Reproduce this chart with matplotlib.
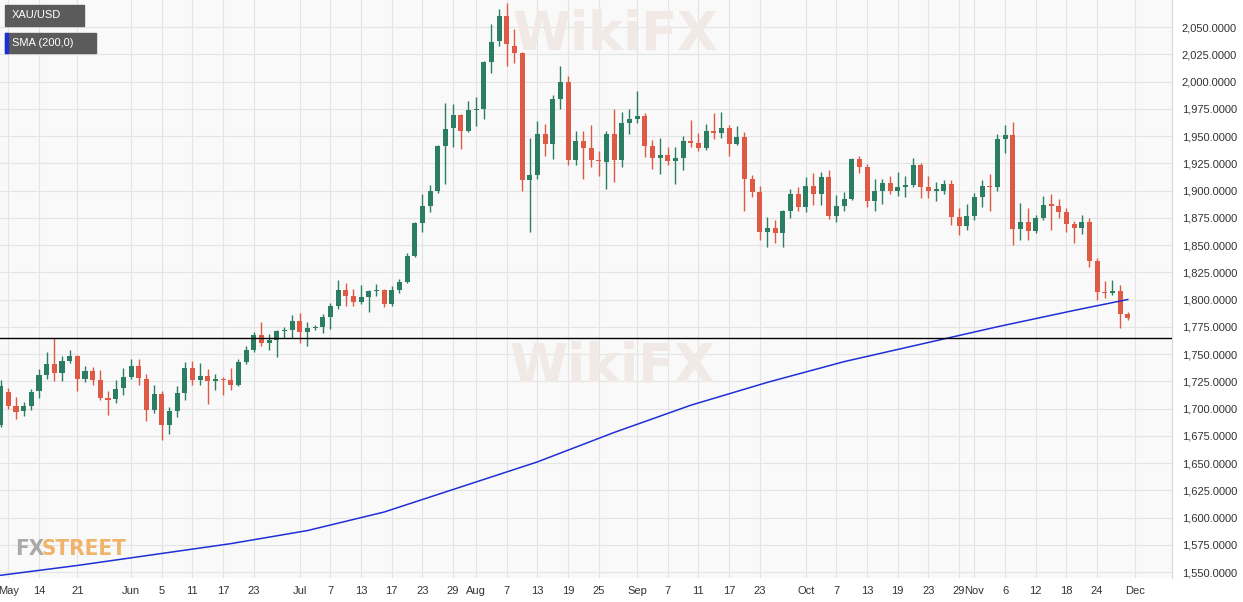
import numpy as np
import matplotlib
matplotlib.use('Agg')
import matplotlib.pyplot as plt

# XAU/USD daily candles, first bar 2020-05-07, one bar per weekday
start = '2020-05-07'
opens = [1685, 1715, 1702, 1698, 1702, 1716, 1731, 1741, 1733, 1744,
         1748, 1727, 1734, 1726, 1710, 1709, 1719, 1729, 1739, 1727,
         1699, 1713, 1685, 1698, 1714, 1737, 1726, 1730, 1725, 1727,
         1726, 1722, 1743, 1754, 1767, 1760, 1763, 1771, 1772, 1780,
         1770, 1774, 1775, 1784, 1794, 1809, 1803, 1798, 1802, 1808,
         1809, 1796, 1809, 1816, 1840, 1870, 1886, 1900, 1941, 1957,
         1969, 1955, 1974, 1975, 2018, 2037, 2060, 2033, 2026, 1910,
         1914, 1952, 1943, 1984, 2000, 1928, 1945, 1939, 1928, 1926,
         1952, 1928, 1962, 1966, 1968, 1941, 1930, 1933, 1927, 1930,
         1945, 1944, 1939, 1955, 1953, 1957, 1943, 1949, 1911, 1899,
         1862, 1866, 1861, 1881, 1897, 1885, 1904, 1897, 1912, 1877,
         1886, 1892, 1929, 1922, 1890, 1900, 1907, 1900, 1903, 1905,
         1923, 1903, 1900, 1900, 1906, 1876, 1867, 1877, 1894, 1904,
         1903, 1947, 1951, 1865, 1871, 1863, 1875, 1888, 1886, 1880,
         1869, 1866, 1871, 1835, 1807, 1806, 1808, 1787]
highs = [1726, 1719, 1711, 1706, 1718, 1736, 1752, 1765, 1748, 1754,
         1749, 1739, 1738, 1735, 1716, 1726, 1737, 1745, 1745, 1732,
         1722, 1716, 1701, 1721, 1743, 1744, 1742, 1736, 1732, 1729,
         1737, 1745, 1757, 1770, 1779, 1768, 1772, 1775, 1786, 1788,
         1779, 1777, 1787, 1797, 1818, 1815, 1810, 1813, 1809, 1814,
         1810, 1812, 1819, 1843, 1871, 1897, 1905, 1942, 1980, 1979,
         1970, 1982, 1986, 2019, 2053, 2067, 2072, 2048, 2027, 1948,
         1964, 1961, 1988, 2014, 2005, 1955, 1955, 1960, 1936, 1955,
         1975, 1972, 1975, 1991, 1971, 1946, 1948, 1940, 1940, 1950,
         1965, 1953, 1961, 1971, 1972, 1960, 1959, 1954, 1914, 1904,
         1876, 1873, 1882, 1901, 1903, 1912, 1916, 1917, 1919, 1896,
         1899, 1930, 1932, 1924, 1911, 1911, 1913, 1917, 1913, 1930,
         1925, 1913, 1908, 1910, 1910, 1884, 1888, 1898, 1910, 1915,
         1952, 1960, 1963, 1889, 1884, 1878, 1895, 1897, 1892, 1884,
         1872, 1878, 1875, 1838, 1817, 1818, 1813, 1789]
lows = [1683, 1700, 1690, 1693, 1699, 1710, 1727, 1725, 1725, 1742,
        1716, 1724, 1722, 1708, 1694, 1705, 1712, 1727, 1722, 1689,
        1696, 1671, 1677, 1692, 1708, 1722, 1722, 1704, 1717, 1712,
        1717, 1721, 1741, 1752, 1757, 1754, 1747, 1765, 1765, 1760,
        1757, 1772, 1769, 1773, 1791, 1794, 1794, 1796, 1789, 1803,
        1793, 1794, 1806, 1815, 1839, 1862, 1880, 1898, 1906, 1940,
        1938, 1954, 1959, 1966, 2008, 2033, 2014, 2017, 1900, 1862,
        1911, 1932, 1929, 1975, 1923, 1923, 1911, 1922, 1913, 1901,
        1908, 1922, 1952, 1962, 1931, 1920, 1915, 1923, 1906, 1919,
        1940, 1936, 1937, 1947, 1948, 1932, 1942, 1881, 1894, 1855,
        1848, 1852, 1848, 1875, 1881, 1880, 1887, 1887, 1874, 1871,
        1881, 1891, 1916, 1885, 1881, 1888, 1897, 1895, 1894, 1903,
        1893, 1893, 1890, 1897, 1868, 1859, 1864, 1873, 1885, 1881,
        1900, 1934, 1850, 1855, 1855, 1861, 1873, 1864, 1875, 1862,
        1852, 1860, 1830, 1800, 1801, 1804, 1774, 1781]
closes = [1721, 1702, 1697, 1702, 1715, 1731, 1741, 1733, 1744, 1748,
          1727, 1734, 1726, 1710, 1708, 1718, 1729, 1739, 1728, 1699,
          1713, 1685, 1698, 1714, 1737, 1726, 1730, 1725, 1727, 1726,
          1722, 1743, 1754, 1767, 1760, 1763, 1771, 1772, 1780, 1770,
          1774, 1775, 1784, 1794, 1809, 1803, 1798, 1802, 1808, 1809,
          1796, 1809, 1816, 1840, 1870, 1886, 1900, 1941, 1956, 1969,
          1955, 1974, 1975, 2018, 2036, 2060, 2034, 2026, 1910, 1914,
          1952, 1943, 1984, 2000, 1928, 1945, 1939, 1928, 1927, 1952,
          1928, 1962, 1966, 1968, 1941, 1930, 1933, 1927, 1930, 1945,
          1944, 1939, 1955, 1953, 1957, 1943, 1949, 1911, 1899, 1862,
          1866, 1861, 1881, 1897, 1885, 1904, 1897, 1912, 1877, 1886,
          1892, 1929, 1922, 1890, 1900, 1907, 1900, 1903, 1905, 1923,
          1903, 1900, 1901, 1906, 1876, 1867, 1877, 1894, 1904, 1903,
          1947, 1951, 1865, 1871, 1863, 1875, 1887, 1886, 1880, 1869,
          1866, 1871, 1835, 1807, 1806, 1808, 1787, 1783]

# 200-day simple moving average, read at a few dates
sma_dates = ['2020-05-07', '2020-05-21', '2020-06-04', '2020-06-18',
             '2020-07-02', '2020-07-16', '2020-07-30', '2020-08-13',
             '2020-08-27', '2020-09-10', '2020-09-24', '2020-10-08',
             '2020-10-22', '2020-11-05', '2020-11-19', '2020-11-30']
sma_values = [1547, 1556, 1566, 1576, 1588, 1605, 1628, 1651,
              1678, 1703, 1724, 1743, 1759, 1775, 1790, 1800]

support_level = 1765

tick_dates = ['2020-05-08', '2020-05-14', '2020-05-21', '2020-06-01', '2020-06-05',
              '2020-06-11', '2020-06-17', '2020-06-23', '2020-07-01', '2020-07-07',
              '2020-07-13', '2020-07-17', '2020-07-23', '2020-07-29', '2020-08-03',
              '2020-08-07', '2020-08-13', '2020-08-19', '2020-08-25', '2020-09-01',
              '2020-09-07', '2020-09-11', '2020-09-17', '2020-09-23', '2020-10-01',
              '2020-10-07', '2020-10-13', '2020-10-19', '2020-10-23', '2020-10-29',
              '2020-11-02', '2020-11-06', '2020-11-12', '2020-11-18', '2020-11-24',
              '2020-12-01']
tick_labels = ['May', '14', '21', 'Jun', '5', '11', '17', '23', 'Jul', '7',
               '13', '17', '23', '29', 'Aug', '7', '13', '19', '25', 'Sep',
               '7', '11', '17', '23', 'Oct', '7', '13', '19', '23', '29',
               'Nov', '6', '12', '18', '24', 'Dec']

GREEN = '#2b7d63'
RED = '#de5a45'
BLUE = '#1f2fd6'
W, H = 1243, 602

o = np.array(opens, float)
h = np.array(highs, float)
l = np.array(lows, float)
c = np.array(closes, float)
x = np.arange(len(o))
up = c >= o
colors = np.where(up, GREEN, RED)

fig = plt.figure(figsize=(W / 100, H / 100), dpi=100)
ax = fig.add_axes([0, 24 / H, 1172 / W, 578 / H])
ax.set_facecolor('#f9f9f9')

# faint watermarks inside the plot
for px, py in [(615, 34), (612, 367)]:
    ax.text(px / 1172, 1 - py / 578, 'WikiFX', transform=ax.transAxes,
            fontsize=38, fontweight='bold', color='#f0e9e6', ha='center', va='center',
            zorder=1)

# wicks and bodies
ax.vlines(x, l, h, colors=colors, linewidth=1.0, zorder=3)
body_lo = np.minimum(o, c)
body_h = np.maximum(np.abs(c - o), 0.8)
ax.bar(x, body_h, bottom=body_lo, width=0.66, color=colors, linewidth=0, zorder=4)

# SMA 200
sma_x = [np.busday_count(start, d) for d in sma_dates]
ax.plot(sma_x, sma_values, color=BLUE, linewidth=1.1, zorder=5)

ax.axhline(support_level, color='black', linewidth=1.0, zorder=6)

ax.set_xlim(-0.09, 152.77)
ax.set_ylim(1544.5, 2074.8)

yticks = np.arange(1550, 2051, 25)
ax.set_yticks(yticks)
ax.set_yticklabels([f'{v:,.4f}' for v in yticks])
ax.yaxis.tick_right()
tick_x = [np.busday_count(start, d) for d in tick_dates]
ax.set_xticks(tick_x)
ax.set_xticklabels(tick_labels)
ax.tick_params(axis='both', length=0, labelsize=8, labelcolor='#333333')
ax.tick_params(axis='y', pad=7)
ax.tick_params(axis='x', pad=6)
for lab in ax.get_xticklabels() + ax.get_yticklabels():
    lab.set_family('Liberation Sans')
ax.grid(True, color='#e4e4e4', linewidth=0.8, zorder=0)
ax.set_axisbelow(True)
for side in ['top', 'left', 'bottom']:
    ax.spines[side].set_visible(False)
ax.spines['right'].set_color('#d8d8d8')

# legend tags
def tag(x0, y0, w, h, text, bar=None):
    fig.patches.append(plt.Rectangle((x0 / W, 1 - (y0 + h) / H), w / W, h / H,
                                     transform=fig.transFigure, color='#5b5b5b', zorder=10))
    if bar:
        fig.patches.append(plt.Rectangle((x0 / W, 1 - (y0 + h) / H), 3 / W, h / H,
                                         transform=fig.transFigure, color=bar, zorder=11))
    fig.text((x0 + 7) / W, 1 - (y0 + h / 2) / H, text, fontsize=8, color='white',
             va='center', family='Liberation Sans', zorder=12)

tag(5, 5, 79, 21, 'XAU/USD')
tag(5, 33, 91, 20, 'SMA (200,0)', bar=BLUE)

# FXStreet logo
fig.text(15 / W, 47 / H, 'FX', fontsize=16, fontweight='bold', color='#a9a9a9',
         family='DejaVu Sans', fontstretch='condensed')
fig.text(42 / W, 47 / H, 'STREET', fontsize=16, fontweight='bold', color='#efb36a',
         family='DejaVu Sans', fontstretch='condensed')

fig.savefig('out.png', dpi=100)
